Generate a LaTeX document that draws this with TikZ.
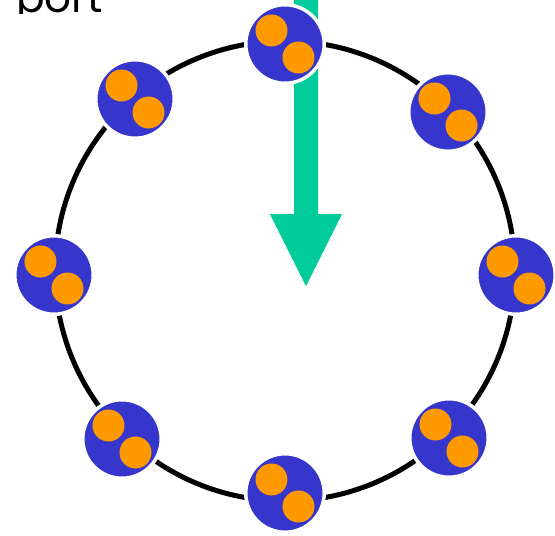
\documentclass[tikz,border=0pt]{standalone}
\usepackage{fontspec}
\setmainfont{Poppins}
\definecolor{ringblue}{HTML}{3636CC}
\definecolor{dotorange}{HTML}{FF9900}
\definecolor{arrowgreen}{HTML}{00CC99}
\tikzset{
  ion/.style={circle,fill=ringblue,draw=white,line width=0.07cm,minimum size=1.57cm,inner sep=0pt},
  dot/.style={fill=dotorange}
}
\begin{document}
\begin{tikzpicture}[x=0.02cm,y=-0.02cm]
    \useasboundingbox (0,0) rectangle (555,535);
    % 标题(只露出下半部分)
    \begin{scope}
      \clip (0,0) rectangle (140,13);
      \node[anchor=base west,inner sep=0pt,font=\fontsize{24}{28}\selectfont] (title) at (16,12) {port};
    \end{scope}
    % 圆环
    \coordinate (O) at (285,271);
    \draw[line width=0.1cm] (O) circle [radius=4.6cm];
    % 箭头
    \coordinate (S) at (306,-10);
    \coordinate (T) at (306,286);
    \fill[arrowgreen] (294,-10) -- (318,-10) -- (318,214) -- (342,214)
                      -- (T) -- (270,214) -- (294,214) -- cycle;
    % 八个离子
    \foreach \n/\x/\y in {a/285/44, b/448/112, c/516/275, d/449/438,
                          e/285/493, f/122/439, g/54/275, h/135/99} {
      \node[ion] (\n) at (\x,\y) {};
      \fill[dot] ([shift={(-13.5,-13.5)}]\n.center) circle [radius=0.32cm];
      \fill[dot] ([shift={(13.5,13.5)}]\n.center) circle [radius=0.32cm];
    }
\end{tikzpicture}
\end{document}
